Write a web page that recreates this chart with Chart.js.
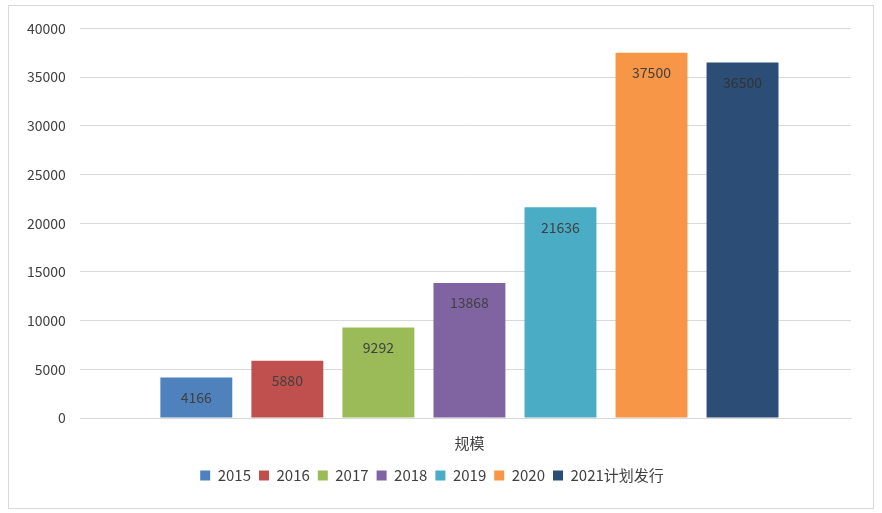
<!DOCTYPE html>
<html>
<head>
<meta charset="utf-8">
<script src="https://cdn.jsdelivr.net/npm/chart.js@4"></script>
<style>
  body { margin: 0; background: #fff; }
  #box { position: absolute; left: 8px; top: 5px; width: 864px; height: 502px; border: 1px solid #d9d9d9; }
</style>
</head>
<body>
<div id="box"><canvas id="c"></canvas></div>
<script>
const categories = ["规模"];
const seriesNames = ["2015", "2016", "2017", "2018", "2019", "2020", "2021计划发行"];
const seriesValues = [4166, 5880, 9292, 13868, 21636, 37500, 36500];
const colors = ["#4F81BD", "#C0504D", "#9BBB59", "#8064A2", "#4BACC6", "#F79646", "#2C4D75"];

const font = "'Noto Sans CJK SC', 'Noto Sans', sans-serif";

// values written just inside the top of each bar
const barLabels = {
  id: "barLabels",
  afterDatasetsDraw(chart) {
    const ctx = chart.ctx;
    ctx.save();
    ctx.font = "14px " + font;
    ctx.textAlign = "center";
    ctx.textBaseline = "middle";
    chart.data.datasets.forEach((ds, i) => {
      const bar = chart.getDatasetMeta(i).data[0];
      ctx.fillStyle = i === 6 ? "#333" : "#404040";
      ctx.fillText(ds.data[0], bar.x, bar.y + 20);
    });
    ctx.restore();
  }
};

new Chart(document.getElementById("c"), {
  type: "bar",
  data: {
    labels: categories,
    datasets: seriesNames.map((n, i) => ({
      label: n,
      data: [seriesValues[i]],
      backgroundColor: colors[i],
      categoryPercentage: 0.835,
      barPercentage: 0.79
    }))
  },
  options: {
    responsive: true,
    maintainAspectRatio: false,
    animation: false,
    layout: { padding: { left: 4, right: 22, top: 9, bottom: 15 } },
    plugins: {
      tooltip: { enabled: false },
      legend: {
        position: "bottom",
        labels: { boxWidth: 10, boxHeight: 10, padding: 8, color: "#404040", font: { family: font, size: 15 } }
      }
    },
    scales: {
      x: {
        grid: { display: false },
        border: { color: "#d9d9d9" },
        ticks: { color: "#404040", font: { family: font, size: 15 }, padding: 8 }
      },
      y: {
        min: 0, max: 40000,
        ticks: { stepSize: 5000, color: "#404040", font: { family: font, size: 14 }, padding: 14,
                 callback: v => String(v) },
        grid: { color: "#d9d9d9" },
        border: { display: false }
      }
    }
  },
  plugins: [barLabels]
});
</script>
</body>
</html>
